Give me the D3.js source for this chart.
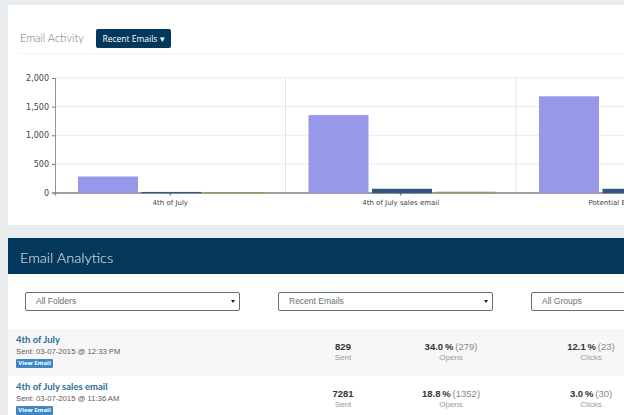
<!DOCTYPE html>
<html>
<head>
<meta charset="utf-8">
<script src="https://cdn.jsdelivr.net/npm/d3@7"></script>
<style>
  html, body { margin: 0; padding: 0; width: 624px; height: 415px; overflow: hidden; background: #e9edf0; }
  body { position: relative; font-family: "Open Sans", sans-serif; }
  .abs { position: absolute; white-space: nowrap; }
  #chartPanel { left: 8px; top: 5px; width: 616px; height: 220px; background: #fff; }
  #chart { position: absolute; left: 0; top: 0; }
  #rule { left: 20px; top: 53px; width: 604px; height: 1px; background: #f2f3f4; }
  #title { left: 20px; top: 29px; font: 300 11px/17px Lato, sans-serif; color: #6f757a; }
  #btn { left: 96px; top: 29px; width: 75px; height: 19px; background: #03375c; border-radius: 2px; color: #fff; font-size: 8.5px; line-height: 19px; text-align: center; }
  #analyticsHead { left: 8px; top: 238px; width: 616px; height: 36px; background: #03375c; color: #eef3f6; font: 300 14.5px/39px Lato, sans-serif; text-indent: 12px; }
  #analyticsBody { left: 8px; top: 274px; width: 616px; height: 141px; background: #fff; }
  .sel { height: 17px; width: 213px; border: 1px solid #5f6e78; border-radius: 2px; background: #fff; color: #6a6f73; font: 8.5px/17px "Liberation Sans", sans-serif; text-indent: 10px; }
  .sel::after { content: ""; position: absolute; right: 4px; top: 7px; border: 2px solid transparent; border-top: 3px solid #222; }
  .row { left: 8px; width: 616px; height: 47px; }
  .name { font: bold 9.5px Lato, sans-serif; color: #2a6f9a; }
  .sent { font: 7.7px "Liberation Sans", sans-serif; color: #5c5c5c; }
  .tag { background: #3d87c6; color: #fff; font: bold 6px/9px "Open Sans", sans-serif; width: 37px; height: 9px; text-align: center; border-radius: 1px; }
  .val { font: bold 9.5px "Liberation Sans", sans-serif; color: #333; transform: translateX(-50%); word-spacing: -0.8px; }
  .val span { font-weight: normal; color: #8a8a8a; }
  .lab { font: 8px "Liberation Sans", sans-serif; color: #999; transform: translateX(-50%); }
</style>
</head>
<body>
<div class="abs" id="chartPanel"></div>
<div class="abs" id="rule"></div>
<div class="abs" id="title">Email Activity</div>
<div class="abs" id="btn">Recent Emails ▾</div>
<svg id="chart" width="800" height="225"></svg>
<div class="abs" id="analyticsHead">Email Analytics</div>
<div class="abs" id="analyticsBody"></div>
<div id="rows"></div>
<script>
// chart values
const emails = [
  { name: '4th of July', sent: 829, opens: 279, clicks: 10, other: 8 },
  { name: '4th of July sales email', sent: 7281, opens: 1352, clicks: 65, other: 14 },
  { name: 'Potential Email Contacts', sent: 0, opens: 1680, clicks: 65, other: 14 }
];
const series = [
  { key: 'opens', color: '#9898ea' },
  { key: 'clicks', color: '#31597f' },
  { key: 'other', color: '#8f9f55' }
];

const svg = d3.select('#chart');
const plotLeft = 55, plotTop = 78, plotBottom = 192.5, step = 230.5;

const x = d3.scaleBand()
  .domain(emails.map(d => d.name))
  .range([plotLeft, plotLeft + step * emails.length]);

const inner = d3.scaleBand()
  .domain(series.map(d => d.key))
  .range([23, 210])
  .paddingInner(0.055);

const y = d3.scaleLinear().domain([0, 2000]).range([plotBottom, plotTop]);

// gridlines
svg.append('g').selectAll('line')
  .data(y.ticks(4).filter(d => d > 0))
  .enter().append('line')
  .attr('x1', plotLeft).attr('x2', 800)
  .attr('y1', d => y(d)).attr('y2', d => y(d))
  .attr('stroke', '#e6e6e6').attr('stroke-width', 0.8);

svg.append('g').selectAll('line')
  .data(emails.slice(1))
  .enter().append('line')
  .attr('x1', d => x(d.name)).attr('x2', d => x(d.name))
  .attr('y1', plotTop).attr('y2', plotBottom)
  .attr('stroke', '#dcdcdc').attr('stroke-width', 0.8);

// axes go under the bars, the small bars have to sit on top of the axis line
const yAxis = svg.append('g')
  .attr('transform', `translate(${plotLeft},0)`)
  .call(d3.axisLeft(y).ticks(4).tickFormat(d3.format(',')).tickSize(3).tickPadding(3));
yAxis.select('.domain').attr('stroke', '#777').attr('stroke-width', 0.8);
yAxis.selectAll('line').attr('stroke', '#777');
yAxis.selectAll('text').style('font', '8px "DejaVu Sans"').attr('fill', '#444');

const xAxis = svg.append('g')
  .attr('transform', `translate(0,${plotBottom})`)
  .call(d3.axisBottom(x).tickSize(3).tickPadding(5));
xAxis.select('.domain').attr('stroke', '#808080').attr('stroke-width', 1.4);
xAxis.selectAll('line').attr('stroke', '#555');
xAxis.selectAll('text').style('font', '7px "DejaVu Sans"').attr('fill', '#444');

// bars
svg.append('g').selectAll('g')
  .data(emails)
  .enter().append('g')
  .attr('transform', d => `translate(${x(d.name)},0)`)
  .selectAll('rect')
  .data(d => series.map(s => ({ key: s.key, color: s.color, value: d[s.key] })))
  .enter().append('rect')
  .attr('x', d => inner(d.key))
  .attr('width', inner.bandwidth())
  .attr('y', d => y(d.value))
  .attr('height', d => y(0) - y(d.value) + 0.7)
  .attr('fill', d => d.color);

// table part
const body = d3.select('#rows');
const selects = [['All Folders', 25], ['Recent Emails', 278], ['All Groups', 531]];
selects.forEach(s => {
  body.append('div').attr('class', 'abs sel')
    .style('left', s[1] + 'px').style('top', '292px').text(s[0]);
});

const rows = [
  { name: '4th of July', date: 'Sent: 03-07-2015 @ 12:33 PM', sent: 829, opens: '34.0 %', openN: 279, clicks: '12.1 %', clickN: 23, rowTop: 329, bg: '#f7f7f7' },
  { name: '4th of July sales email', date: 'Sent: 03-07-2015 @ 11:36 AM', sent: 7281, opens: '18.8 %', openN: 1352, clicks: '3.0 %', clickN: 30, rowTop: 376, bg: '#fff' }
];
rows.forEach(r => {
  body.append('div').attr('class', 'abs row').style('top', r.rowTop + 'px').style('background', r.bg);
  const put = (cls, l, t, html) => body.append('div').attr('class', 'abs ' + cls)
    .style('left', l + 'px').style('top', (r.rowTop + t) + 'px').html(html);
  put('name', 16, 5, r.name);
  put('sent', 16, 18, r.date);
  put('tag', 16, 30, 'View Email');
  put('val', 343, 12, r.sent);
  put('lab', 343, 24, 'Sent');
  put('val', 451, 12, `${r.opens} <span>(${r.openN})</span>`);
  put('lab', 451, 24, 'Opens');
  put('val', 591, 12, `${r.clicks} <span>(${r.clickN})</span>`);
  put('lab', 591, 24, 'Clicks');
});
</script>
</body>
</html>
